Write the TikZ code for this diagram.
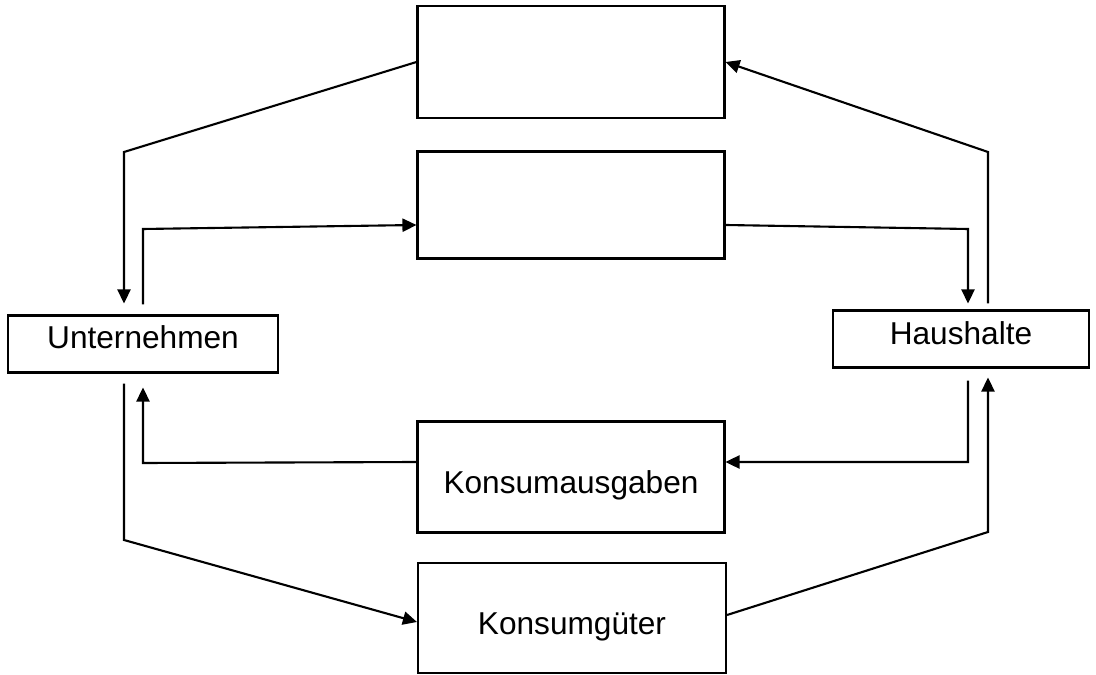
\documentclass[tikz,border=0pt]{standalone}
\usepackage{fontspec}
\setmainfont{Liberation Sans}
\usetikzlibrary{arrows.meta}

\begin{document}
\begin{tikzpicture}[x=0.02cm, y=-0.02cm,
  box/.style={draw, line width=1.2pt, inner sep=0pt, font=\fontsize{18}{21}\selectfont},
  low/.style={text height=22.7pt, text depth=3.8pt},
  high/.style={text height=12.9pt, text depth=#1},
  flow/.style={line width=1.2pt, -{Triangle[length=8pt,width=7.5pt]}}]
\useasboundingbox (0,0) rectangle (1096,675);
\node [box, minimum width=6.14cm, minimum height=2.24cm] (top) at (571,62) {};
\node [box, minimum width=6.14cm, minimum height=2.14cm] (mid) at (571,205) {};
\node [box, high=8pt, minimum width=5.4cm, minimum height=1.14cm] (unt) at (143,344) {Unternehmen};
\node [box, high=6.8pt, minimum width=5.12cm, minimum height=1.14cm] (haus) at (961,339) {Haushalte};
\node [box, low, minimum width=6.14cm, minimum height=2.22cm] (ausg) at (571,477) {Konsumausgaben};
\node [box, low, minimum width=6.16cm, minimum height=2.2cm] (gueter) at (572,618) {Konsumgüter};

\draw [flow] (top.west) -- (124,152) -- ([xshift=-0.38cm,yshift=0.22cm]unt.north);
\draw [flow] ([yshift=0.2cm]unt.north) -- (143,229) -- ([yshift=-0.4cm]mid.west);
\draw [flow] ([yshift=-0.4cm]mid.east) -- (968,229) -- ([xshift=0.14cm,yshift=0.12cm]haus.north);
\draw [flow] ([xshift=0.54cm,yshift=0.12cm]haus.north) -- (988,152) -- (top.east);
\draw [flow] ([xshift=0.14cm,yshift=-0.24cm]haus.south) -- (968,462) -- ([yshift=0.3cm]ausg.east);
\draw [flow] ([yshift=0.3cm]ausg.west) -- (143,463) -- ([yshift=-0.28cm]unt.south);
\draw [flow] ([xshift=-0.38cm,yshift=-0.2cm]unt.south) -- (124,540) -- ([yshift=-0.08cm]gueter.west);
\draw [flow] ([yshift=0.06cm]gueter.east) -- (988,532) -- ([xshift=0.54cm,yshift=-0.18cm]haus.south);
\end{tikzpicture}
\end{document}
